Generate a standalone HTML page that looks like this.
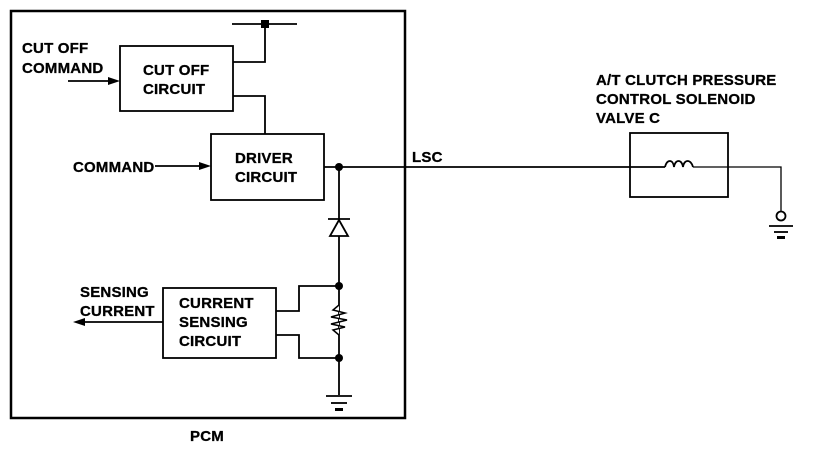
<!DOCTYPE html><html><head><style>body{margin:0;background:#fff}svg text{font-family:"Liberation Sans",Arial,sans-serif;font-weight:bold;font-size:15px;letter-spacing:0.2px;stroke:#000;stroke-width:0.3px}</style></head><body>
<svg width="816" height="448" viewBox="0 0 816 448" xmlns="http://www.w3.org/2000/svg" fill="none" stroke="#000">
<rect x="11" y="11" width="394" height="407" stroke-width="2.5"/>
<rect x="120" y="46" width="113" height="65" stroke-width="1.8"/>
<rect x="211" y="134" width="113" height="66" stroke-width="1.8"/>
<rect x="163" y="288" width="113" height="70" stroke-width="1.8"/>
<rect x="630" y="133" width="98" height="64" stroke-width="1.8"/>
<g stroke-width="1.8">
<line x1="232" y1="24" x2="297" y2="24"/>
<polyline points="233,62 265,62 265,24"/>
<polyline points="233,96 265,96 265,134"/>
<line x1="324" y1="167" x2="665" y2="167"/>
<line x1="339" y1="167" x2="339" y2="395"/>
<line x1="68" y1="81" x2="112" y2="81"/>
<line x1="155" y1="166" x2="203" y2="166"/>
<line x1="163" y1="322" x2="80" y2="322"/>
<polyline points="276,311 299,311 299,286 339,286"/>
<polyline points="276,335 299,335 299,358 339,358"/>
<line x1="328" y1="219" x2="350" y2="219"/>
<line x1="326" y1="396" x2="352" y2="396"/>
<line x1="331" y1="403" x2="347" y2="403"/>
<line x1="769" y1="226" x2="793" y2="226"/>
<line x1="774" y1="232" x2="788" y2="232"/>
</g>
<polyline points="693,167 781,167 781,211" stroke-width="1.3"/>
<rect x="335" y="408" width="8" height="3" fill="#000" stroke="none"/>
<rect x="777" y="236" width="8" height="3" fill="#000" stroke="none"/>
<circle cx="781" cy="216" r="4.5" stroke-width="1.8" fill="#fff"/>
<rect x="261" y="20" width="8" height="8" fill="#000" stroke="none"/>
<circle cx="339" cy="167" r="4" fill="#000" stroke="none"/>
<circle cx="339" cy="286" r="4" fill="#000" stroke="none"/>
<circle cx="339" cy="358" r="4" fill="#000" stroke="none"/>
<polygon points="339,220 330,236 348,236" stroke-width="1.8" fill="#fff"/>
<polyline points="339,305 333,310 345,313 331,317 347,320 331,324 345,327 333,330 339,335" stroke-width="1.5" fill="#fff"/>
<path d="M665,167 c2,-8 8,-8 9,0 c1,-8 8,-8 9,0 c1,-8 8,-8 10,0" stroke-width="1.8"/>
<g fill="#000" stroke="none">
<polygon points="120,81 108,77 108,85"/>
<polygon points="211,166 199,162 199,170"/>
<polygon points="73,322 85,318 85,326"/>
</g>
<g fill="#000">
<text x="22" y="53">CUT OFF</text><text x="22" y="73">COMMAND</text>
<text x="143" y="75">CUT OFF</text><text x="143" y="94">CIRCUIT</text>
<text x="73" y="172">COMMAND</text>
<text x="235" y="163">DRIVER</text><text x="235" y="182">CIRCUIT</text>
<text x="80" y="297">SENSING</text><text x="80" y="316">CURRENT</text>
<text x="179" y="308">CURRENT</text><text x="179" y="327">SENSING</text><text x="179" y="346">CIRCUIT</text>
<text x="190" y="441">PCM</text>
<text x="412" y="162">LSC</text>
<text x="596" y="85">A/T CLUTCH PRESSURE</text><text x="596" y="104">CONTROL SOLENOID</text><text x="596" y="123">VALVE C</text>
</g>
</svg></body></html>
